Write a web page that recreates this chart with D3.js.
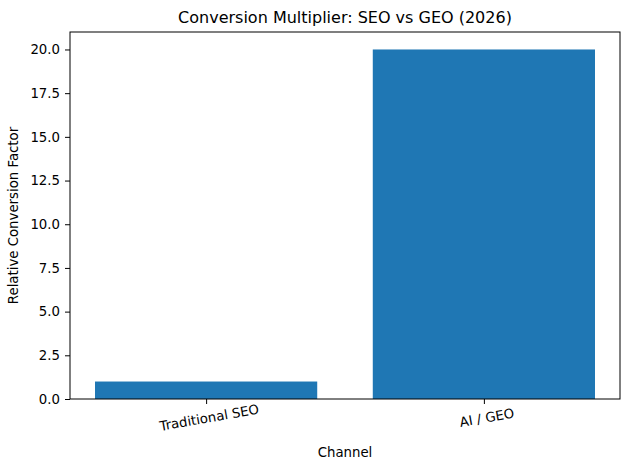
<!DOCTYPE html>
<html><head><meta charset="utf-8">
<script src="https://cdn.jsdelivr.net/npm/d3@7"></script>
<style>body{margin:0;background:#fff}text{font-family:"DejaVu Sans",sans-serif}</style>
</head><body><div id="chart"></div>
<script>
const channels = ["Traditional SEO", "AI / GEO"];
const factors = [1, 20];
const yTicks = [0, 2.5, 5, 7.5, 10, 12.5, 15, 17.5, 20];

const margin = { top: 32, right: 10, bottom: 71, left: 70 },
    width = 630 - margin.left - margin.right,
    height = 470 - margin.top - margin.bottom;

const svg = d3.select("#chart").append("svg")
    .attr("width", 630).attr("height", 470)
    .append("g").attr("transform", `translate(${margin.left},${margin.top})`);

const x = d3.scaleLinear().domain([-0.49, 1.49]).range([0, width]);
const y = d3.scaleLinear().domain([0, 21]).range([height, 0]);

svg.selectAll(".bar").data(factors).join("rect")
    .attr("x", (d, i) => x(i - 0.4))
    .attr("width", x(0.8) - x(0))
    .attr("y", d => y(d))
    .attr("height", d => y(0) - y(d))
    .attr("fill", "#1f77b4");

const yAxis = svg.append("g").call(d3.axisLeft(y).tickValues(yTicks).tickFormat(d3.format(".1f")).tickSize(5).tickPadding(5));
const xAxis = svg.append("g").attr("transform", `translate(0,${height})`)
    .call(d3.axisBottom(x).tickValues([0, 1]).tickFormat((d, i) => channels[i]).tickSize(5).tickPadding(5));
[xAxis, yAxis].forEach(a => { a.selectAll("text").style("font-size", "13.3px").attr("fill", "#000"); a.select(".domain").remove(); });
xAxis.selectAll(".tick text").attr("text-anchor", "middle")
    .attr("transform", "translate(0,4) rotate(-10)");

svg.append("rect").attr("width", width).attr("height", height)
    .attr("fill", "none").attr("stroke", "#000").attr("stroke-width", 1);

svg.append("text").attr("x", width / 2).attr("y", -9).attr("text-anchor", "middle")
    .style("font-size", "16px").text("Conversion Multiplier: SEO vs GEO (2026)");
svg.append("text").attr("x", width / 2).attr("y", height + 58).attr("text-anchor", "middle")
    .style("font-size", "13.3px").text("Channel");
svg.append("text").attr("transform", "rotate(-90)").attr("x", -height / 2).attr("y", -52)
    .attr("text-anchor", "middle").style("font-size", "13.3px").text("Relative Conversion Factor");
</script></body></html>
